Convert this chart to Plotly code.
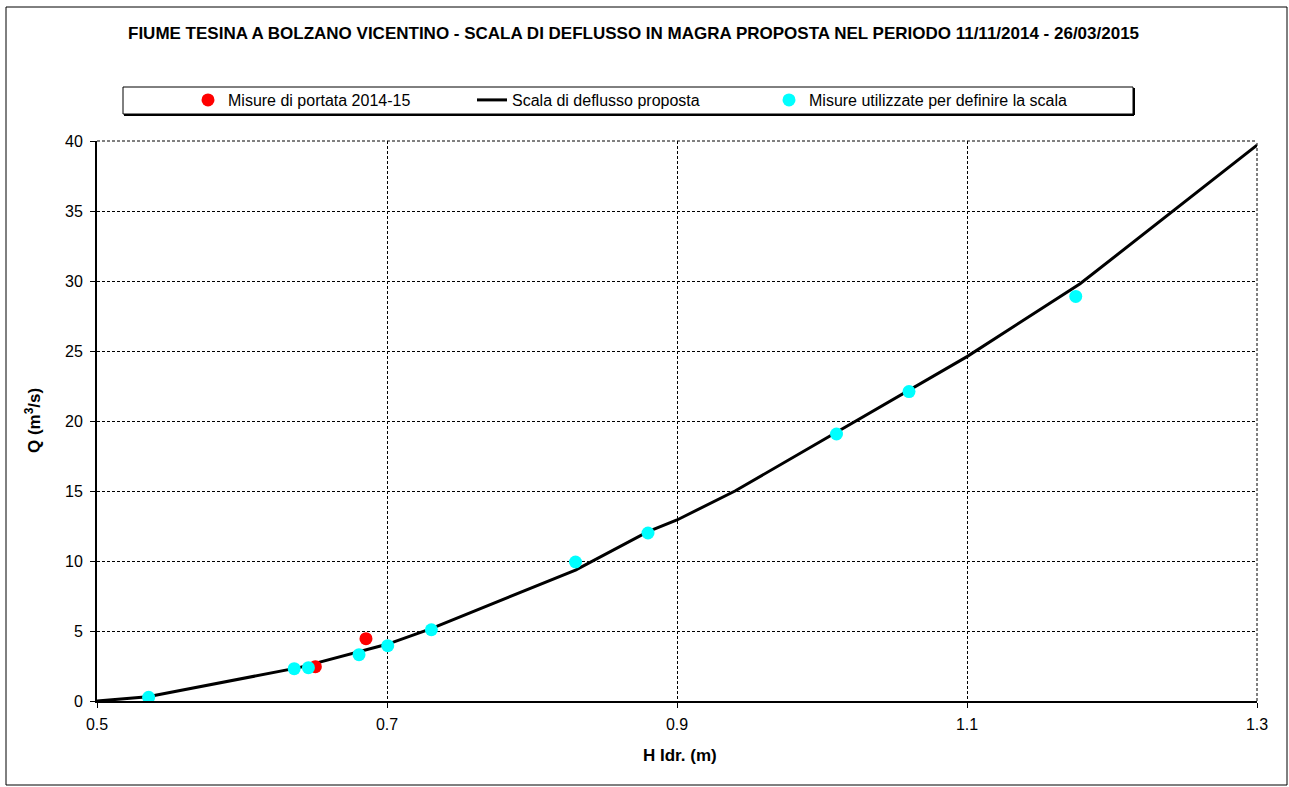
import plotly.graph_objects as go

# Misure di portata 2014-15
h_misure = [0.6506, 0.6855]
q_misure = [2.45, 4.45]

# Misure utilizzate per definire la scala
h_scala_pts = [0.5356, 0.636, 0.6458, 0.6807, 0.7005, 0.7306, 0.830, 0.880, 1.010, 1.060, 1.175]
q_scala_pts = [0.26, 2.31, 2.38, 3.31, 3.95, 5.09, 9.93, 12.0, 19.07, 22.1, 28.9]

# Scala di deflusso proposta
h_curve = [0.50, 0.535, 0.64, 0.70, 0.73, 0.83, 0.88, 0.90, 0.94, 1.01, 1.06, 1.10, 1.178, 1.242, 1.30]
q_curve = [0.0, 0.30, 2.40, 4.05, 5.15, 9.35, 12.1, 12.93, 15.0, 19.2, 22.2, 24.6, 29.8, 35.0, 39.7]

x_ticks = [0.5, 0.7, 0.9, 1.1, 1.3]
x_tick_labels = ["0.5", "0.7", "0.9", "1.1", "1.3"]
y_ticks = [0, 5, 10, 15, 20, 25, 30, 35, 40]

FONT = "Liberation Sans, Arial, sans-serif"
W, H = 1289, 787
L, R, T, B = 97, 32, 141, 86
PW, PH = W - L - R, H - T - B


def px_x(p):
    return (p - L) / PW


def px_y(p):
    return (H - B - p) / PH


fig = go.Figure()

fig.add_trace(go.Scatter(
    x=h_curve, y=q_curve, mode="lines",
    line=dict(color="black", width=3),
    name="Scala di deflusso proposta", legend="legend2", showlegend=True,
))
fig.add_trace(go.Scatter(
    x=h_misure, y=q_misure, mode="markers",
    marker=dict(color="#ff0000", size=13),
    name="Misure di portata 2014-15", legend="legend", showlegend=True,
))
fig.add_trace(go.Scatter(
    x=h_scala_pts, y=q_scala_pts, mode="markers",
    marker=dict(color="#00ffff", size=13),
    name="Misure utilizzate per definire la scala", legend="legend3", showlegend=True,
))

grid = dict(showgrid=True, gridcolor="black", gridwidth=1, griddash="3px,2px")
fig.update_xaxes(
    range=[0.5, 1.3], tickvals=x_ticks, ticktext=x_tick_labels,
    showline=True, linecolor="black", linewidth=2,
    ticks="outside", ticklen=5, tickcolor="black", ticklabelstandoff=3,
    tickfont=dict(family=FONT, size=16, color="black"),
    zeroline=False, **grid,
)
fig.update_yaxes(
    range=[0, 40], tickvals=y_ticks,
    showline=True, linecolor="black", linewidth=2,
    ticks="outside", ticklen=5, tickcolor="black", ticklabelstandoff=4,
    tickfont=dict(family=FONT, size=16, color="black"),
    zeroline=False, **grid,
)

shapes = [
    # dashed frame lines at the top and right edge of the plot
    dict(type="line", xref="paper", yref="paper", x0=0, x1=1, y0=1, y1=1,
         line=dict(color="black", width=1, dash="3px,2px")),
    dict(type="line", xref="paper", yref="paper", x0=1, x1=1, y0=0, y1=1,
         line=dict(color="black", width=1, dash="3px,2px")),
    # outer chart border
    dict(type="rect", xref="paper", yref="paper",
         x0=px_x(6), x1=px_x(1287), y0=px_y(785), y1=px_y(7),
         line=dict(color="black", width=1), layer="below"),
    # legend box with shadowed edges
    dict(type="rect", xref="paper", yref="paper",
         x0=px_x(123), x1=px_x(1133), y0=px_y(114), y1=px_y(87),
         line=dict(color="black", width=1), fillcolor="white", layer="below"),
    dict(type="line", xref="paper", yref="paper",
         x0=px_x(124), x1=px_x(1134), y0=px_y(115), y1=px_y(115),
         line=dict(color="black", width=2)),
    dict(type="line", xref="paper", yref="paper",
         x0=px_x(1134), x1=px_x(1134), y0=px_y(115), y1=px_y(88),
         line=dict(color="black", width=2)),
]

annotations = [
    dict(text="<b>FIUME TESINA A BOLZANO VICENTINO - SCALA DI DEFLUSSO IN MAGRA PROPOSTA NEL PERIODO 11/11/2014 - 26/03/2015</b>",
         xref="paper", yref="paper", x=px_x(633), y=px_y(33),
         xanchor="center", yanchor="middle", showarrow=False,
         font=dict(family=FONT, size=17, color="black")),
    dict(text="<b>H Idr. (m)</b>", xref="paper", yref="paper",
         x=px_x(680), y=px_y(755), xanchor="center", yanchor="middle",
         showarrow=False, font=dict(family=FONT, size=17, color="black")),
    dict(text="<b>Q (m<sup>3</sup>/s)</b>", xref="paper", yref="paper",
         x=px_x(33), y=px_y(421), xanchor="center", yanchor="middle",
         textangle=-90, showarrow=False,
         font=dict(family=FONT, size=17, color="black")),
]

leg_common = dict(orientation="h", yanchor="middle", y=px_y(100),
                  xanchor="left", bgcolor="rgba(0,0,0,0)", borderwidth=0,
                  font=dict(family=FONT, size=16, color="black"))

fig.update_layout(
    width=W, height=H,
    margin=dict(l=L, r=R, t=T, b=B),
    paper_bgcolor="white", plot_bgcolor="white",
    showlegend=True,
    shapes=shapes, annotations=annotations,
    legend=dict(x=px_x(188), **leg_common),
    legend2=dict(x=px_x(472), **leg_common),
    legend3=dict(x=px_x(769), **leg_common),
)

fig.write_html("out.html")
